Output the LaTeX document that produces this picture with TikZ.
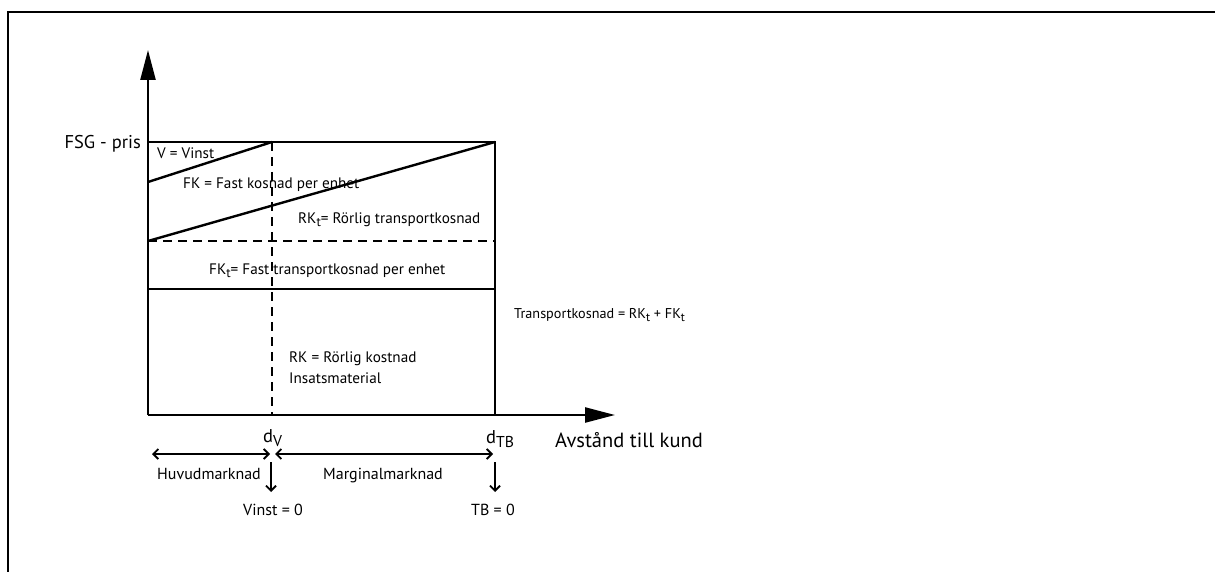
\documentclass[tikz,border=0pt]{standalone}
\usepackage{fontspec}
\setmainfont{PT Sans}
\usepackage{graphicx}
\usetikzlibrary{arrows.meta}
\newcommand{\lsub}[1]{\raisebox{-0.45ex}{\scalebox{0.85}{#1}}}
\begin{document}
\begin{tikzpicture}[x=1pt,y=-1pt,
  frameline/.style={line width=2.6pt},
  axisline/.style={line width=2.4pt,-{Triangle[length=30pt,width=15pt]}},
  boxline/.style={line width=2.4pt},
  dashline/.style={line width=2.4pt,dash pattern=on 9pt off 6pt},
  lbl/.style={inner sep=0pt,anchor=base west,font=\fontsize{15.2}{17}\selectfont},
  blbl/.style={inner sep=0pt,anchor=base west,font=\fontsize{16}{18}\selectfont},
  biglbl/.style={inner sep=0pt,anchor=base west,font=\fontsize{18.5}{20}\selectfont},
  darrow/.style={line width=1.8pt,{Straight Barb[length=5pt,width=10pt]}-{Straight Barb[length=5pt,width=10pt]}},
  downarrow/.style={line width=1.8pt,-{Straight Barb[length=5pt,width=10pt]}}
]
\useasboundingbox (0,0) rectangle (1215,572);
% frame
\coordinate (FrBL) at (8,572);
\coordinate (FrTL) at (8,12);
\coordinate (FrTR) at (1215,12);
\draw[frameline] (FrBL) -- (FrTL) -- (FrTR);
% axes
\coordinate (O) at (148,415);
\coordinate (ytip) at (148,50);
\coordinate (xtip) at (615,415);
\draw[axisline] (O) -- (ytip);
\draw[axisline] (O) -- (xtip);
% box
\coordinate (P0) at (148,142);
\coordinate (P1) at (272,142);
\coordinate (P2) at (495,142);
\coordinate (V0) at (148,182);
\coordinate (F0) at (148,241);
\coordinate (D1) at (495,241);
\coordinate (H0) at (148,289);
\coordinate (H1) at (495,289);
\coordinate (B1) at (272,415);
\coordinate (B2) at (495,415);
\draw[boxline] (P0) -- (P2) -- (B2);
\draw[boxline] (V0) -- (P1);
\draw[boxline] (F0) -- (P2);
\draw[dashline] (F0) -- (D1);
\draw[boxline] (H0) -- (H1);
\draw[dashline] (P1) -- (B1);
% labels
\node[biglbl,anchor=base east] (fsg) at (141,149) {FSG - pris};
\node[lbl] (vinst) at (157,159) {V = Vinst};
\node[lbl] (fk) at (183,189) {FK = Fast kosnad per enhet};
\node[lbl] (rkt) at (298,223) {RK\lsub{t}= Rörlig transportkosnad};
\node[lbl] (fkt) at (209,274) {FK\lsub{t}= Fast transportkosnad per enhet};
\node[lbl,font=\fontsize{14.2}{16}\selectfont] (tk) at (514,318) {Transportkosnad = RK\lsub{t} + FK\lsub{t}};
\node[lbl] (rk) at (289,362) {RK = Rörlig kostnad};
\node[lbl] (ins) at (289,383) {Insatsmaterial};
\node[biglbl] (dv) at (263,442) {d\lsub{V}};
\node[biglbl] (dtb) at (486,443) {d\lsub{TB}};
\node[biglbl,font=\fontsize{20.5}{22}\selectfont] (avst) at (555,447) {Avstånd till kund};
% bottom arrows
\coordinate (HA) at (152,454);
\coordinate (HB) at (270,454);
\coordinate (MA) at (275,454);
\coordinate (MB) at (493,454);
\draw[darrow] (HA) -- (HB);
\draw[darrow] (MA) -- (MB);
\coordinate (DVa) at (271,462);
\coordinate (DVb) at (271,492);
\coordinate (DTa) at (495,462);
\coordinate (DTb) at (495,492);
\draw[downarrow] (DVa) -- (DVb);
\draw[downarrow] (DTa) -- (DTb);
\node[blbl] (huvud) at (157,479) {Huvudmarknad};
\node[blbl] (marg) at (323,479) {Marginalmarknad};
\node[blbl] (v0) at (243,515) {Vinst = 0};
\node[blbl] (tb0) at (471,515) {TB = 0};
\end{tikzpicture}
\end{document}
